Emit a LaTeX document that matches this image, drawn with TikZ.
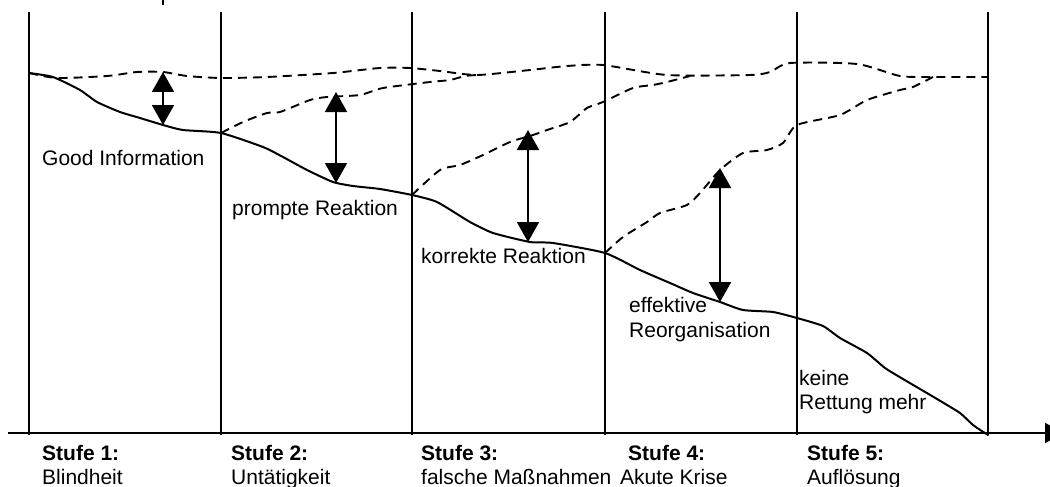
\documentclass[tikz,border=0pt]{standalone}
\usepackage{fontspec}
\setmainfont{Liberation Sans}
\usetikzlibrary{arrows.meta}
\begin{document}
\begin{tikzpicture}[x=1pt,y=-1pt,
  stageline/.style={line width=2pt},
  decline/.style={line width=2pt, line join=round, line cap=round},
  recovery/.style={line width=1.9pt, dash pattern=on 9pt off 6pt, line join=round},
  gaparrow/.style={line width=1.8pt,
    {Triangle[width=22pt,length=20pt]}-{Triangle[width=22pt,length=20pt]}},
  axisline/.style={line width=2pt, -{Triangle[width=20pt,length=18pt]}},
  lbl/.style={anchor=base west, inner sep=0pt, font=\fontsize{21}{25}\selectfont},
  hdr/.style={lbl, font=\fontsize{21}{25}\selectfont\bfseries}]
\useasboundingbox (0,0) rectangle (1050,487);

% small mark at the top edge
\coordinate (mk1) at (163,0);
\coordinate (mk2) at (163,5);
\draw[stageline] (mk1) -- (mk2);

% stage boundaries
\foreach \i/\x in {0/29,1/221,2/412,3/605,4/797,5/988}{
  \coordinate (top\i) at (\x,12);
  \coordinate (bot\i) at (\x,435);
  \draw[stageline] (top\i) -- (bot\i);
}

% time axis
\coordinate (axl) at (8,433);
\coordinate (axr) at (1063,433);
\draw[axisline] (axl) -- (axr);

% declining curve
\draw[decline] plot[smooth, tension=0.35] coordinates {
  (29,73) (53,77) (80,90) (97,102) (120,112) (140,118) (163,125) (183,130)
  (221,133) (263,147) (283,157) (307,170) (333,182) (353,186) (380,189)
  (412,195) (437,202) (470,222) (493,233) (530,242) (553,243)
  (605,253) (640,270) (670,283) (693,293) (720,302) (743,310) (773,312)
  (797,318) (823,326) (840,338) (867,353) (885,368) (903,379) (937,399)
  (960,413) (973,425) (988,435)};

% recovery paths
\draw[recovery] plot[smooth, tension=0.4] coordinates {
  (29,73) (57,78) (107,76) (137,72) (163,72) (187,76) (221,78) (267,77)
  (333,73) (380,68) (410,68) (440,71) (477,75) (530,70) (567,66) (603,65)
  (667,75) (750,75) (770,72) (790,63) (857,64) (900,76) (933,77) (988,77)};
\draw[recovery] plot[smooth, tension=0.4] coordinates {
  (221,133) (243,122) (267,113) (280,112) (310,100) (327,97) (360,95)
  (383,88) (430,82) (450,80) (465,76) (477,75)};
\draw[recovery] plot[smooth, tension=0.4] coordinates {
  (412,195) (440,170) (460,165) (483,155) (510,142) (533,135) (547,130)
  (570,122) (587,108) (603,102) (633,88) (653,85) (667,82) (690,76)};
\draw[recovery] plot[smooth, tension=0.4] coordinates {
  (605,253) (623,237) (647,222) (660,213) (687,205) (700,193) (720,170)
  (743,153) (767,150) (783,143) (797,125) (840,115) (867,100) (900,90)
  (913,87) (933,77)};

% gaps between decline and recovery
\coordinate (g1t) at (163,72);  \coordinate (g1b) at (163,125);
\coordinate (g2t) at (336,92);  \coordinate (g2b) at (336,183);
\coordinate (g3t) at (528,130); \coordinate (g3b) at (528,242);
\coordinate (g4t) at (720,168); \coordinate (g4b) at (720,302);
\draw[gaparrow] (g1t) -- (g1b);
\draw[gaparrow] (g2t) -- (g2b);
\draw[gaparrow] (g3t) -- (g3b);
\draw[gaparrow] (g4t) -- (g4b);

% labels along the curve
\node[lbl] (lgood) at (42,165) {Good Information};
\node[lbl] (lprompt) at (232,215) {prompte Reaktion};
\node[lbl] (lkorr) at (421,263) {korrekte Reaktion};
\node[lbl] (leff1) at (629,312) {effektive};
\node[lbl] (leff2) at (629,337) {Reorganisation};
\node[lbl] (lkein1) at (799,385) {keine};
\node[lbl] (lkein2) at (799,409) {Rettung mehr};

% stage captions
\node[hdr] (s1) at (42,460) {Stufe 1:};
\node[lbl] (n1) at (42,484) {Blindheit};
\node[hdr] (s2) at (231,460) {Stufe 2:};
\node[lbl] (n2) at (231,484) {Untätigkeit};
\node[hdr] (s3) at (421,460) {Stufe 3:};
\node[lbl] (n3) at (421,484) {falsche Maßnahmen};
\node[hdr] (s4) at (628,460) {Stufe 4:};
\node[lbl] (n4) at (620,484) {Akute Krise};
\node[hdr] (s5) at (807,460) {Stufe 5:};
\node[lbl] (n5) at (807,484) {Auflösung};
\end{tikzpicture}
\end{document}
